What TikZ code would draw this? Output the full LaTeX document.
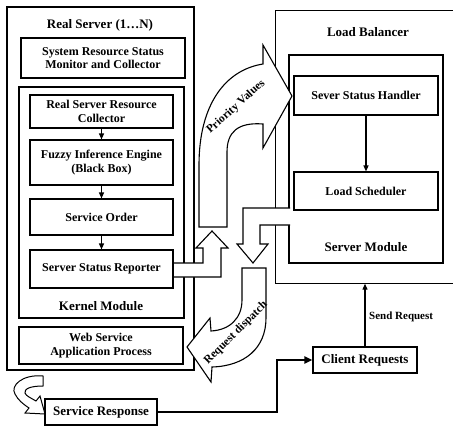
\documentclass[tikz,border=0pt]{standalone}
\usepackage{fontspec}
\setmainfont{Liberation Serif}
\usetikzlibrary{arrows.meta}
\begin{document}
\begin{tikzpicture}[x=1pt,y=-1pt,
  box/.style={draw, line width=1.1pt, fill=white, align=center, inner sep=0pt,
    font=\fontsize{12}{13.5}\selectfont\bfseries},
  bigbox/.style={box, font=\fontsize{13}{15}\selectfont\bfseries},
  frame/.style={draw, line width=1.3pt, inner sep=0pt},
  title/.style={font=\fontsize{13}{15}\selectfont\bfseries, inner sep=0pt},
  lbl/.style={font=\fontsize{11}{13}\selectfont\bfseries, inner sep=0pt},
  curvlbl/.style={font=\fontsize{11.5}{13}\selectfont\bfseries, inner sep=0pt},
  arr/.style={-{Triangle[length=6pt,width=5pt]}, line width=1.2pt},
  thickarr/.style={-{Triangle[length=8pt,width=7pt]}, line width=2.2pt},
  blockarrow/.style={draw, line width=1.1pt, fill=white, line join=miter},
]
\useasboundingbox (0,0) rectangle (453,426);

% ---------------- Real Server ----------------
\node[frame, minimum width=187pt, minimum height=363pt] (rs) at (100.5,188.5) {};
\node[title] (rst) at (100,25) {Real Server (1\ldots N)};
\node[box, minimum width=164pt, minimum height=40pt] (srs) at (103,58)
  {System Resource Status\\Monitor and Collector};
\node[frame, line width=1.1pt, minimum width=165pt, minimum height=231pt] (km) at (101.5,202.5) {};

% band from reporter to the up arrow (drawn before the reporter box)
\filldraw[blockarrow] (172,263) -- (203,263) -- (203,248) -- (196,248) -- (212,231)
  -- (228,248) -- (221,248) -- (221,277) -- (172,277);

\node[box, minimum width=143pt, minimum height=33pt] (rsrc) at (101.5,111.5)
  {Real Server Resource\\Collector};
\node[box, minimum width=143pt, minimum height=45pt] (fie) at (101.5,162.5)
  {Fuzzy Inference Engine\\(Black Box)};
\node[box, minimum width=143pt, minimum height=36pt] (so) at (101.5,217) {Service Order};
\node[box, minimum width=143pt, minimum height=38pt] (ssr) at (101.5,269) {Server Status Reporter};
\node[title] (kml) at (101,306) {Kernel Module};
\node[box, minimum width=164pt, minimum height=37pt] (ws) at (101,345.5)
  {Web Service\\Application Process};

\draw[arr] (rsrc) -- (fie);
\draw[arr] (fie) -- (so);
\draw[arr] (so) -- (ssr);

% ---------------- Load Balancer ----------------
\node[minimum width=177pt, minimum height=273pt, inner sep=0pt] (lb) at (364,147) {};
\draw[line width=1.4pt] (lb.north east) -- (lb.north west) -- (lb.south west) -- (lb.south east);
\node[title] (lbt) at (368,32) {Load Balancer};
\node[frame, line width=1.1pt, minimum width=154pt, minimum height=208pt] (sm) at (366,159) {};
\node[box, minimum width=144pt, minimum height=39pt] (ssh) at (366,95.5) {Sever Status Handler};
\node[box, minimum width=144pt, minimum height=38pt] (ls) at (366,191) {Load Scheduler};
\node[title] (sml) at (366,247) {Server Module};
\draw[arr] (ssh) -- (ls);

% band from load scheduler down to the request dispatch arrow
\filldraw[blockarrow] (290,208) -- (243,208) -- (243,244) -- (237,244) -- (253,263)
  -- (268,244) -- (260,244) -- (260,225) -- (290,225);

% ---------------- Priority Values arrow ----------------
\filldraw[blockarrow] (199,227) -- (199,165) .. controls (199,105) and (225,70) .. (263,64)
  -- (263,45) -- (292,96) -- (263,148) -- (263,124)
  .. controls (238,122) and (227,132) .. (227,152) -- (227,227) -- cycle;
\node[curvlbl, rotate=42] (pv) at (236,107) {Priority Values};

% ---------------- Request dispatch arrow ----------------
\filldraw[blockarrow] (242,268) -- (266,268) -- (266,318)
  .. controls (266,348) and (245,366) .. (212,367) -- (211,382) -- (187,347) -- (210,318)
  -- (211,331) .. controls (230,330) and (242,318) .. (242,300) -- cycle;
\node[curvlbl, rotate=45] (rd) at (236,333) {Request dispatch};

% ---------------- Client side ----------------
\node[bigbox, minimum width=104pt, minimum height=26pt] (cr) at (365,360) {Client Requests};
\node[bigbox, minimum width=112pt, minimum height=26pt] (sr) at (101,412) {Service Response};
\coordinate (bend) at (277,412);
\draw[arr] (cr.north) -- (cr.north |- lb.south);
\node[lbl, anchor=west] (sendl) at (369,317) {Send Request};
\draw[thickarr] (sr.east) -- (bend) |- (cr.west);

% small curved arrow to Service Response
\filldraw[blockarrow, line width=1pt] (43,376) .. controls (22,374) and (10,386) .. (15,394)
  .. controls (18,400) and (23,404) .. (29,408) -- (25,413) -- (45,414) -- (40,396)
  -- (36,401) .. controls (31,398) and (26,396) .. (25,393)
  .. controls (24,389) and (30,386) .. (43,386) -- cycle;
\end{tikzpicture}
\end{document}
